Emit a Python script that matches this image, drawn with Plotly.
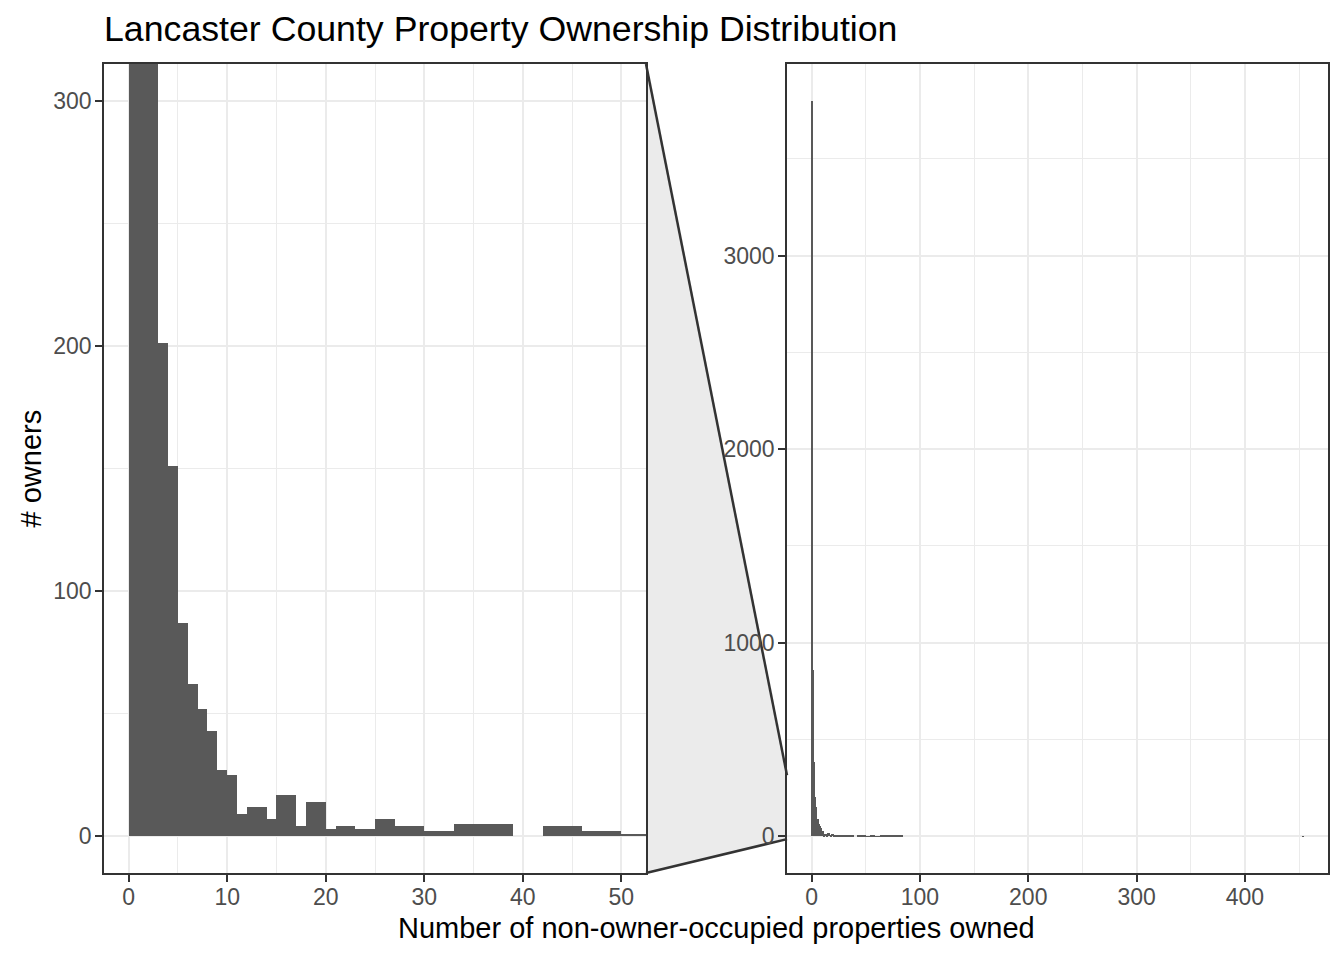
import plotly.graph_objects as go

# ---- data ----
bin_left_edges = list(range(0, 84)) + [453]
owner_counts = [
    3800, 858, 383, 201, 151, 87, 62, 52, 43, 27,   # 0-9
    25, 9, 12, 12, 7, 17, 17, 4, 14, 14,           # 10-19
    3, 4, 4, 3, 3, 7, 7, 4, 4, 4,                  # 20-29
    2, 2, 2, 5, 5, 5, 5, 5, 5, 0,                  # 30-39
    0, 0, 4, 4, 4, 4, 2, 2, 2, 2,                  # 40-49
    1, 1, 1, 1, 3, 3, 3, 3, 1, 0,                  # 50-59
    1, 0, 1, 0, 3, 3, 3, 3, 3, 3,                  # 60-69
    3, 3, 3, 3, 3, 3, 3, 3, 3, 3,                  # 70-79
    3, 3, 3, 3,                                    # 80-83
    1,                                             # 453
]
binwidth = 1
zoom_xlim = [0, 50]
zoom_ylim = [0, 300]
title_text = "Lancaster County Property Ownership Distribution"
x_title = "Number of non-owner-occupied properties owned"
y_title = "# owners"

centers = [e + binwidth / 2 for e in bin_left_edges]

# ---- style ----
W, H = 1344, 960
ML, MR, MT, MB = 104, 16, 64, 87
PW = W - ML - MR
PH = H - MT - MB
FONT = "Liberation Sans"
BAR = "#595959"
GRID = "#EBEBEB"
BORDER = "#333333"
TICKC = "#4D4D4D"

left_dom = [0, 542 / PW]
right_dom = [683 / PW, 1]


def expand(lo, hi, f=0.05):
    r = hi - lo
    return [lo - f * r, hi + f * r]


lx_range = expand(*zoom_xlim)
ly_range = expand(*zoom_ylim)
rx_range = expand(0, max(bin_left_edges) + binwidth)
ry_range = expand(0, max(owner_counts))

fig = go.Figure()
for xa, ya in (("x", "y"), ("x2", "y2")):
    fig.add_trace(go.Bar(
        x=centers, y=owner_counts, width=binwidth,
        marker=dict(color=BAR, line=dict(width=0)),
        xaxis=xa, yaxis=ya, showlegend=False, hoverinfo="x+y",
    ))

tickfont = dict(family=FONT, size=23, color=TICKC)


def axis_common(rng, dtick, mdtick, dom, anchor, standoff):
    return dict(
        range=rng, domain=dom, anchor=anchor, dtick=dtick, tick0=0,
        showgrid=True, gridcolor=GRID, gridwidth=2,
        minor=dict(dtick=mdtick, tick0=0, showgrid=True, gridcolor=GRID,
                   gridwidth=1, ticks=""),
        zeroline=False, showline=True, mirror=True, linecolor=BORDER,
        linewidth=1.5, ticks="outside", ticklen=7, tickwidth=1.5,
        tickcolor=BORDER, tickfont=tickfont, fixedrange=True,
        ticklabelstandoff=standoff,
    )


fig.update_layout(
    width=W, height=H,
    margin=dict(l=ML, r=MR, t=MT, b=MB),
    paper_bgcolor="white", plot_bgcolor="white",
    bargap=0,
    xaxis=axis_common(lx_range, 10, 5, left_dom, "y", -4),
    yaxis=axis_common(ly_range, 100, 50, [0, 1], "x", -1),
    xaxis2=axis_common(rx_range, 100, 50, right_dom, "y2", -4),
    yaxis2=axis_common(ry_range, 1000, 500, [0, 1], "x2", -1),
    title=dict(text=title_text, x=ML / W, xanchor="left", xref="container",
               y=1 - 29 / H, yanchor="middle", yref="container",
               font=dict(family=FONT, size=35.7, color="black")),
)


def to_paper(v, rng):
    return (v - rng[0]) / (rng[1] - rng[0])


x1 = left_dom[1]
x2 = right_dom[0]
y_hi = to_paper(ly_range[1], ry_range)
y_lo = to_paper(ly_range[0], ry_range)

fig.add_shape(type="path", xref="paper", yref="paper",
              path=f"M {x1},0 L {x1},1 L {x2},{y_hi} L {x2},{y_lo} Z",
              fillcolor=GRID, line=dict(width=0), layer="below")
fig.add_shape(type="line", xref="paper", yref="paper", x0=x1, y0=1, x1=x2,
              y1=y_hi, line=dict(color=BORDER, width=2.5), layer="below")
fig.add_shape(type="line", xref="paper", yref="paper", x0=x1, y0=0, x1=x2,
              y1=y_lo, line=dict(color=BORDER, width=2.5), layer="below")

fig.add_annotation(text=x_title, xref="paper", yref="paper", x=0.5,
                   y=(873 - 928) / PH, xanchor="center", yanchor="middle",
                   showarrow=False, font=dict(family=FONT, size=29, color="black"))
fig.add_annotation(text=y_title, xref="paper", yref="paper",
                   x=(30 - ML) / PW, y=0.5, xanchor="center", yanchor="middle",
                   textangle=-90, showarrow=False,
                   font=dict(family=FONT, size=29, color="black"))

fig.write_html("out.html")
